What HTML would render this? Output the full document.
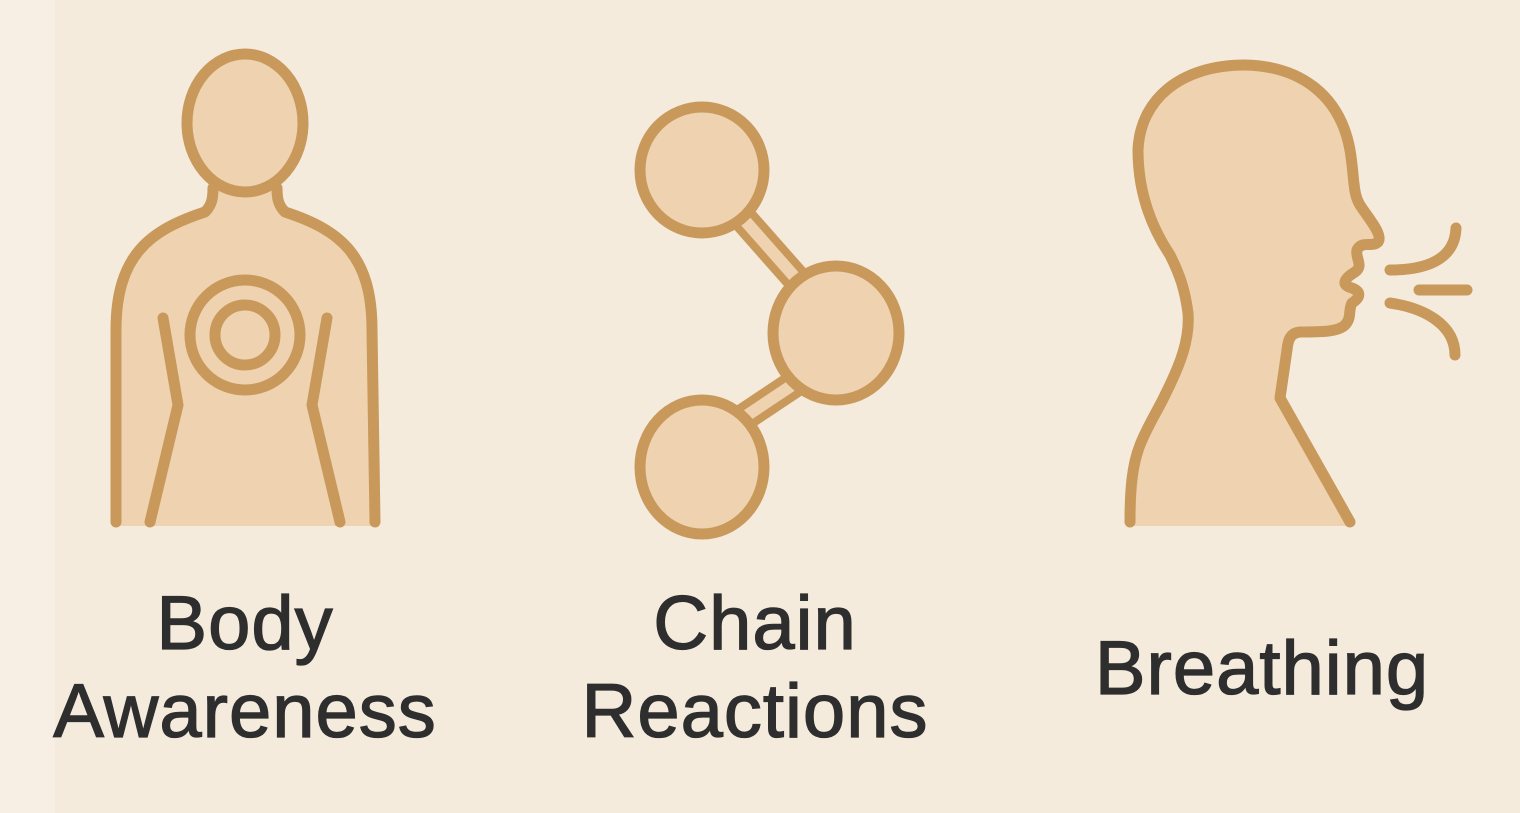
<!DOCTYPE html>
<html><head><meta charset="utf-8"><style>
html,body{margin:0;padding:0;}
body{width:1520px;height:813px;background:#f5ebdd;position:relative;overflow:hidden;font-family:"Liberation Sans",sans-serif;}
.strip{position:absolute;left:0;top:0;width:55px;height:813px;background:#f7efe3;}
svg{position:absolute;left:0;top:0;}
.t{position:absolute;color:#2e2e2e;font-size:76px;text-align:center;line-height:88px;-webkit-text-stroke:1.3px #2e2e2e;letter-spacing:1px;}
</style></head><body>
<div class="strip"></div>
<svg width="1520" height="813" viewBox="0 0 1520 813">
<g fill="#efd2b0" stroke="#c8995a" stroke-width="11" stroke-linecap="round" stroke-linejoin="round">
<!-- body -->
<path d="M116 526 L116 330 C116 255 150 230 205 212 C212 205 213 198 213 188 L277 188 C277 198 278 205 285 212 C340 230 372 255 372 330 L375 526 Z" stroke="none"/>
<path d="M116 522 L116 330 C116 255 150 230 205 212 C212 205 213 198 213 188 M277 188 C277 198 278 205 285 212 C340 230 372 255 372 330 L375 522" fill="none"/>
<ellipse cx="245" cy="123" rx="58" ry="69"/>
<circle cx="245" cy="335" r="55" fill="none"/>
<circle cx="245" cy="335" r="30" fill="none"/>
<path d="M163 318 L178 405 L150 522" fill="none"/>
<path d="M327 318 L312 405 L340 522" fill="none"/>
<!-- chain -->
<line x1="740" y1="215" x2="800" y2="283" stroke-width="28"/>
<line x1="740" y1="215" x2="800" y2="283" stroke="#efd2b0" stroke-width="12"/>
<line x1="740" y1="420" x2="800" y2="380" stroke-width="28"/>
<line x1="740" y1="420" x2="800" y2="380" stroke="#efd2b0" stroke-width="12"/>
<ellipse cx="702" cy="170" rx="62" ry="63"/>
<ellipse cx="836" cy="333" rx="63" ry="67"/>
<ellipse cx="702" cy="467" rx="62" ry="67"/>
<!-- head -->
<path d="M1130 526 C1130 490 1132 465 1140 445 C1148 425 1158 410 1165 395 C1180 365 1190 340 1188 313 C1185 290 1180 275 1170 255 C1150 225 1138 190 1138 150 C1140 100 1180 65 1245 65 C1300 66 1340 95 1350 150 C1355 180 1352 195 1362 208 C1370 220 1383 235 1378 242 C1372 248 1362 240 1357 250 C1355 258 1364 266 1355 272 C1345 278 1340 285 1352 288 C1362 292 1360 298 1352 303 C1348 310 1352 318 1345 325 C1338 332 1320 332 1300 332 C1290 333 1288 340 1287 350 L1280 398 L1352 526 Z" stroke="none"/>
<path d="M1130 522 C1130 490 1132 465 1140 445 C1148 425 1158 410 1165 395 C1180 365 1190 340 1188 313 C1185 290 1180 275 1170 255 C1150 225 1138 190 1138 150 C1140 100 1180 65 1245 65 C1300 66 1340 95 1350 150 C1355 180 1352 195 1362 208 C1370 220 1383 235 1378 242 C1372 248 1362 240 1357 250 C1355 258 1364 266 1355 272 C1345 278 1340 285 1352 288 C1362 292 1360 298 1352 303 C1348 310 1352 318 1345 325 C1338 332 1320 332 1300 332 C1290 333 1288 340 1287 350 L1280 398 L1350 522" fill="none"/>
<path d="M1390 270 C1425 270 1455 260 1456 228" fill="none"/>
<path d="M1419 290 L1467 290" fill="none"/>
<path d="M1390 303 C1425 308 1455 325 1455 355" fill="none"/>
</g>
</svg>
<div class="t" style="left:45px;top:580px;width:400px;">Body<br>Awareness</div>
<div class="t" style="left:555px;top:580px;width:400px;">Chain<br>Reactions</div>
<div class="t" style="left:1062px;top:625px;width:400px;">Breathing</div>
</body></html>
